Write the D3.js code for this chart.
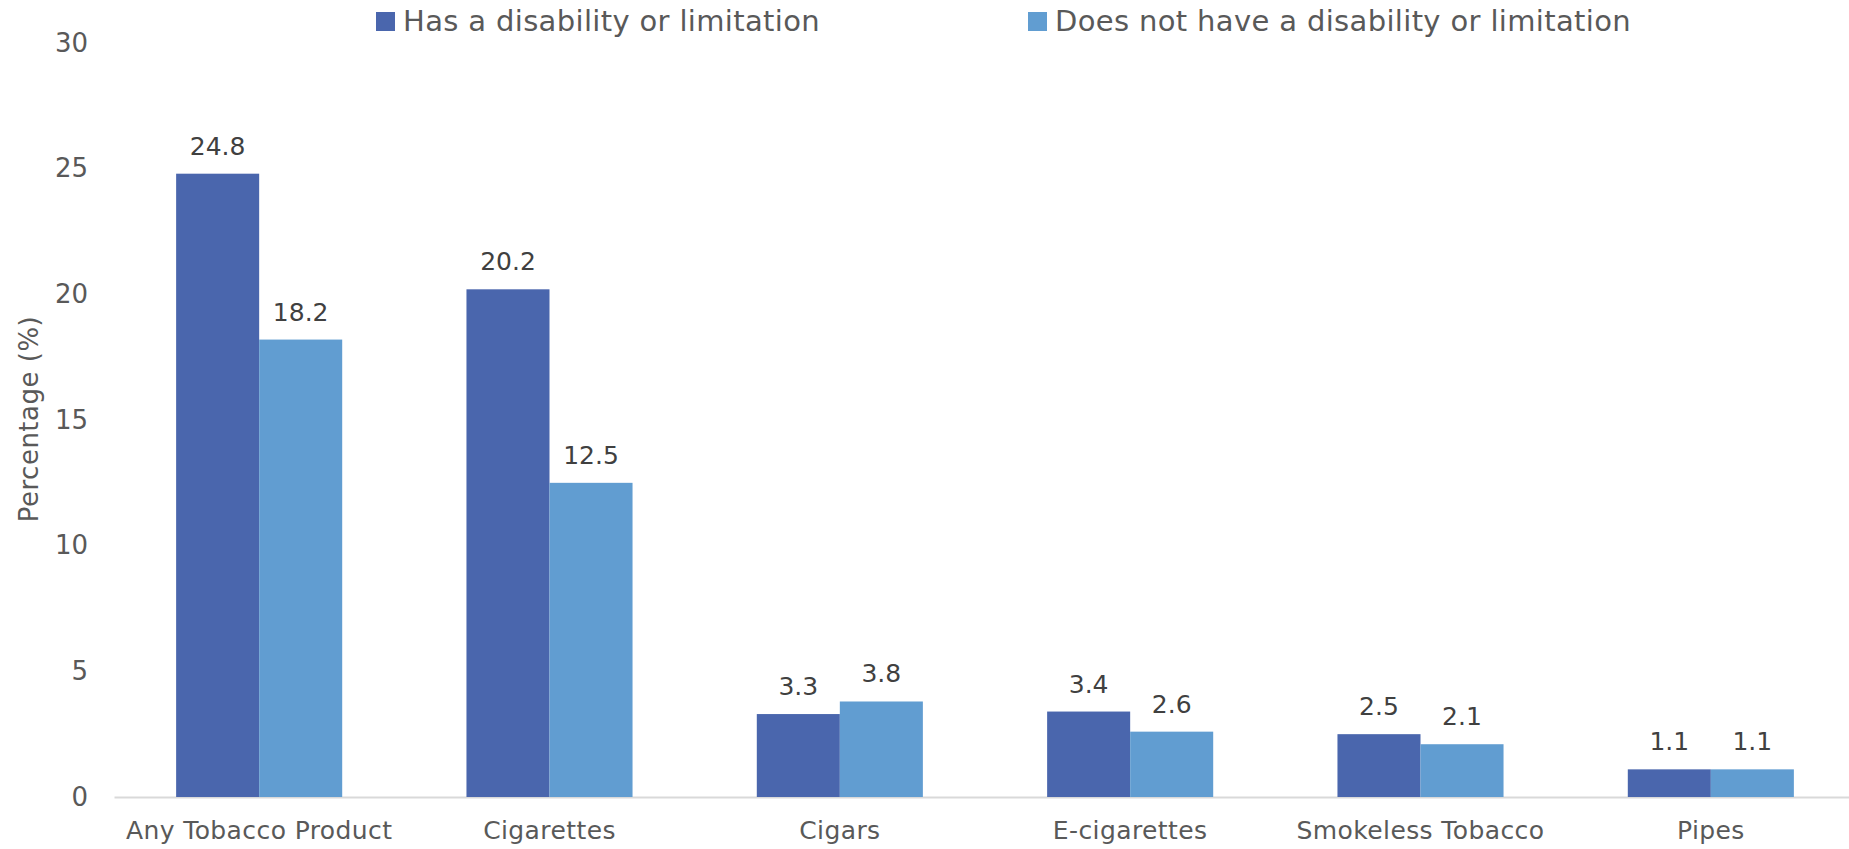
<!DOCTYPE html>
<html>
<head>
<meta charset="utf-8">
<script src="https://cdn.jsdelivr.net/npm/d3@7"></script>
<style>
  body { margin: 0; background: #fff; }
  svg text { font-family: "DejaVu Sans", sans-serif; }
  .yAxis .domain { display: none; }
  .yAxis text { fill: #595959; font-size: 26px; }
  .xAxis .domain { stroke: #d9d9d9; stroke-width: 2; }
  .xAxis text { fill: #595959; font-size: 25px; letter-spacing: 0.4px; }
</style>
</head>
<body>
<script>
// data
var categories = ["Any Tobacco Product", "Cigarettes", "Cigars", "E-cigarettes", "Smokeless Tobacco", "Pipes"]
var seriesNames = ["Has a disability or limitation", "Does not have a disability or limitation"]
var hasDisability = [24.8, 20.2, 3.3, 3.4, 2.5, 1.1]
var noDisability = [18.2, 12.5, 3.8, 2.6, 2.1, 1.1]
var yTicks = [0, 5, 10, 15, 20, 25, 30]
var colors = ["#4a66ad", "#619dd1"]

var width = 1849, height = 849

var svg = d3.select("body").append("svg")
  .attr("width", width)
  .attr("height", height)

// Scales
var x = d3.scaleBand()
  .domain(categories)
  .range([114, 1856])
  .paddingInner(0.428)
  .paddingOuter(0.214)

var x1 = d3.scaleBand()
  .domain(seriesNames)
  .range([0, x.bandwidth()])

var y = d3.scaleLinear().domain([0, 30]).range([797, 43])

var color = d3.scaleOrdinal().domain(seriesNames).range(colors)

var rows = categories.map(function(c, i) {
  return { cat: c, values: [
    { name: seriesNames[0], value: hasDisability[i] },
    { name: seriesNames[1], value: noDisability[i] }
  ] }
})

// Axes
svg.append("g")
  .attr("class", "yAxis")
  .attr("transform", "translate(88,0)")
  .call(d3.axisLeft(y).tickValues(yTicks).tickSize(0).tickPadding(0))

svg.append("g")
  .attr("class", "xAxis")
  .attr("transform", "translate(0," + y(0) + ")")
  .call(d3.axisBottom(x).tickSize(0).tickPadding(24).tickSizeOuter(0))

svg.append("text")
  .attr("transform", "translate(29,419) rotate(-90)")
  .attr("text-anchor", "middle")
  .attr("dy", "0.35em")
  .attr("fill", "#595959")
  .style("font-size", "26px")
  .style("letter-spacing", "0.5px")
  .text("Percentage (%)")

// Bars
var groups = svg.selectAll(".group")
  .data(rows)
  .enter().append("g")
  .attr("class", "group")
  .attr("transform", function(d) { return "translate(" + x(d.cat) + ",0)" })

groups.selectAll("rect")
  .data(function(d) { return d.values })
  .enter().append("rect")
  .attr("x", function(d) { return x1(d.name) })
  .attr("y", function(d) { return y(d.value) })
  .attr("width", x1.bandwidth())
  .attr("height", function(d) { return y(0) - y(d.value) })
  .attr("fill", function(d) { return color(d.name) })

groups.selectAll(".label")
  .data(function(d) { return d.values })
  .enter().append("text")
  .attr("class", "label")
  .attr("x", function(d) { return x1(d.name) + x1.bandwidth() / 2 })
  .attr("y", function(d) { return y(d.value) - 19 })
  .attr("text-anchor", "middle")
  .attr("fill", "#404040")
  .style("font-size", "25px")
  .text(function(d) { return d.value.toFixed(1) })

// Legend
var legendX = [376, 1028]
var legend = svg.selectAll(".legend")
  .data(seriesNames)
  .enter().append("g")
  .attr("class", "legend")
  .attr("transform", function(d, i) { return "translate(" + legendX[i] + ",12)" })

legend.append("rect")
  .attr("width", 19)
  .attr("height", 19)
  .attr("fill", function(d) { return color(d) })

legend.append("text")
  .attr("x", 27)
  .attr("y", 19)
  .attr("fill", "#595959")
  .style("font-size", "29px")
  .style("letter-spacing", "0.35px")
  .text(function(d) { return d })
</script>
</body>
</html>
